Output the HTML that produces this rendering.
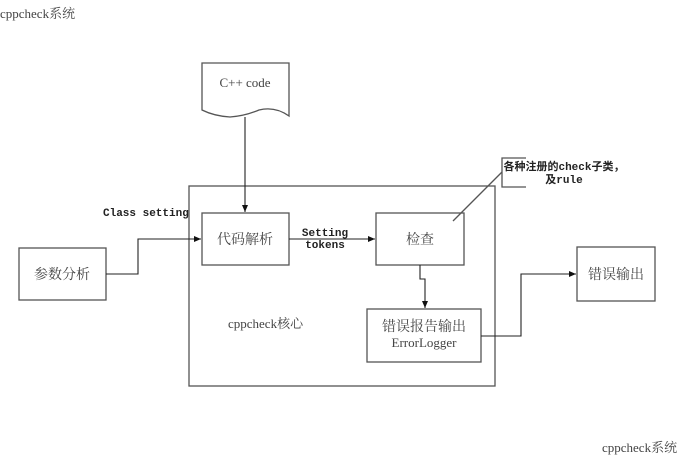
<!DOCTYPE html>
<html><head><meta charset="utf-8"><style>
html,body{margin:0;padding:0;background:#fff;}
svg{display:block;}
text{font-family:"Liberation Serif","Noto Serif CJK SC",serif;fill:#444;}
.m{font-family:"Liberation Mono","Noto Sans CJK SC",monospace;font-weight:bold;fill:#222;}
</style></head><body>
<svg width="690" height="457" viewBox="0 0 690 457" xmlns="http://www.w3.org/2000/svg">
<defs><marker id="a" markerWidth="8" markerHeight="8" refX="7" refY="4" orient="auto" markerUnits="userSpaceOnUse"><path d="M0,1 L7,4 L0,7 z" fill="#111"/></marker></defs>
<g fill="none" stroke="#555" stroke-width="1.3">
<path d="M202,63 H289 V116 Q275,106 259,110 Q245,116 230,117 Q214,116 202,110 Z"/>
<rect x="189" y="186" width="306" height="200"/>
<rect x="202" y="213" width="87" height="52"/>
<rect x="19" y="248" width="87" height="52"/>
<rect x="376" y="213" width="88" height="52"/>
<rect x="367" y="309" width="114" height="53"/>
<rect x="577" y="247" width="78" height="54"/>
<path d="M526,158 H502 V187 H526"/>
<path d="M502,172 L453,221"/>
</g>
<g fill="none" stroke="#222" stroke-width="1.1">
<path d="M245,117 V212" marker-end="url(#a)"/>
<path d="M106,274 H138 V239 H201" marker-end="url(#a)"/>
<path d="M289,239 H375" marker-end="url(#a)"/>
<path d="M420,265 V279 H425 V308" marker-end="url(#a)"/>
<path d="M481,336 H521 V274 H576" marker-end="url(#a)"/>
</g>
<text x="0" y="18" font-size="13">cppcheck系统</text>
<text x="602" y="452" font-size="13">cppcheck系统</text>
<text x="245" y="87" font-size="13" text-anchor="middle">C++ code</text>
<text x="103" y="216" font-size="11" class="m">Class setting</text>
<text x="325" y="236" font-size="11" class="m" text-anchor="middle">Setting</text>
<text x="325" y="248" font-size="11" class="m" text-anchor="middle">tokens</text>
<text x="245" y="244" font-size="14" text-anchor="middle">代码解析</text>
<text x="62" y="279" font-size="14" text-anchor="middle">参数分析</text>
<text x="420" y="244" font-size="14" text-anchor="middle">检查</text>
<text x="616" y="279" font-size="14" text-anchor="middle">错误输出</text>
<text x="424" y="331" font-size="14" text-anchor="middle">错误报告输出</text>
<text x="424" y="347" font-size="13" text-anchor="middle">ErrorLogger</text>
<text x="228" y="328" font-size="13">cppcheck核心</text>
<text x="564" y="170" font-size="11" class="m" text-anchor="middle">各种注册的check子类，</text>
<text x="564" y="183" font-size="11" class="m" text-anchor="middle">及rule</text>
</svg>
</body></html>
